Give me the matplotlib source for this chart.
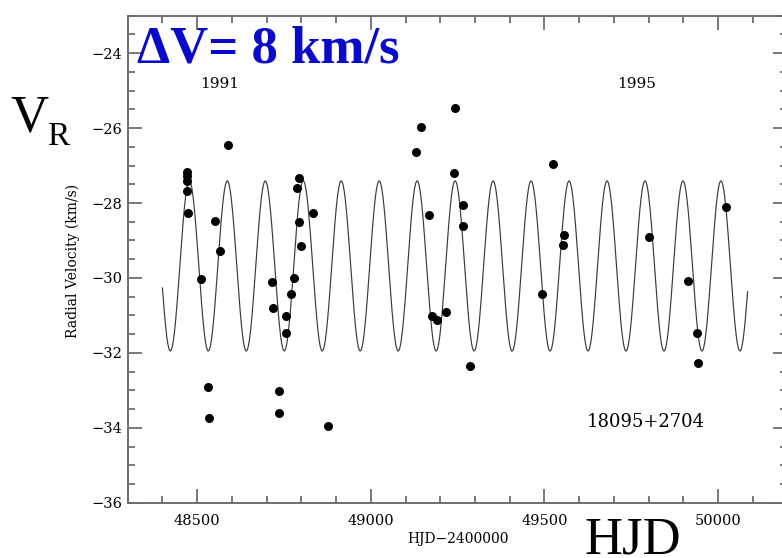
import numpy as np
import matplotlib
matplotlib.use("Agg")
import matplotlib.pyplot as plt

# ---- data (HJD-2400000, radial velocity km/s) ----
hjd = [48470.0, 48470.5, 48471.0, 48471.0, 48472.8, 48511.0, 48551.4, 48565.8,
       48532.0, 48534.0, 48589.7, 48714.6, 48719.3, 48734.8, 48736.5, 48755.8,
       48755.0, 48770.2, 48778.0, 48792.4, 48788.3, 48793.2, 48799.9, 48834.4,
       48875.9, 49243.3, 49145.4, 49131.0, 49239.6, 49168.4, 49264.6, 49264.6,
       49175.3, 49189.7, 49216.5, 49285.6, 49492.1, 49524.6, 49556.3, 49554.3,
       49800.1, 49913.3, 49940.0, 49941.3, 50022.7]
vr = [-27.17, -27.28, -27.42, -27.69, -28.28, -30.02, -28.47, -29.27,
      -32.92, -33.74, -26.44, -30.11, -30.79, -33.02, -33.61, -31.02,
      -31.48, -30.43, -30.01, -27.32, -27.61, -28.50, -29.15, -28.28,
      -33.95, -25.47, -25.97, -26.63, -27.19, -28.33, -28.04, -28.61,
      -31.01, -31.12, -30.90, -32.34, -30.43, -26.95, -28.86, -29.11,
      -28.91, -30.07, -31.47, -32.27, -28.11]

# orbit model parameters (fitted sinusoid)
period = 109.35
gamma = -29.68
amp = 2.27
t_peak = 48586.8
t_start, t_end = 48400.0, 50085.0

year_labels = ["1991", "1995"]
year_pos = [48565.8, 49765.6]
star_id = "18095+2704"

W, H = 782, 558
fig = plt.figure(figsize=(W / 100, H / 100), dpi=100)

def fx(x):
    return x / W

def fy(y):
    return 1 - y / H

ax_l, ax_r, ax_t, ax_b = 127.7, 787.5, 15.7, 502.7
ax = fig.add_axes([fx(ax_l), fy(ax_b), (ax_r - ax_l) / W, (ax_b - ax_t) / H])
ax.set_xlim(48300, 50200)
ax.set_ylim(-36, -23)

t = np.linspace(t_start, t_end, 3000)
model = gamma + amp * np.cos(2 * np.pi * (t - t_peak) / period)
ax.plot(t, model, color="#3a3a3a", lw=0.85)
ax.scatter(hjd, vr, s=42, color="black", zorder=3, linewidths=0)

spine_col = "#6e6e6e"
for s in ax.spines.values():
    s.set_color(spine_col)
    s.set_linewidth(1.4)

ax.set_xticks([48500, 49000, 49500, 50000])
ax.set_xticks(np.arange(48300, 50201, 100), minor=True)
ax.set_yticks(np.arange(-36, -23, 2))
ax.set_yticks(np.arange(-36, -22.9, 0.5), minor=True)
ax.set_yticklabels(["\u221236", "\u221234", "\u221232", "\u221230", "\u221228", "\u221226", "\u221224"])
ax.tick_params(which="both", direction="in", top=True, right=True, color=spine_col, width=1.3)
ax.tick_params(which="major", length=10)
ax.tick_params(which="minor", length=5)
ax.tick_params(axis="x", which="major", pad=8, labelsize=10.5)
ax.tick_params(axis="y", which="major", pad=4, labelsize=10.5)
for lab in ax.get_xticklabels() + ax.get_yticklabels():
    lab.set_family("DejaVu Serif")

for lbl, xp in zip(year_labels, year_pos):
    ax.text(xp, -24.83, lbl, ha="center", va="center", family="DejaVu Serif", fontsize=11)
ax.text(49791.5, -33.84, star_id, ha="center", va="center", family="DejaVu Serif", fontsize=13)

fig.text(fx(72.7), fy(261), "Radial Velocity (km/s)", rotation=90, ha="center", va="center",
         family="DejaVu Serif", fontsize=10)
fig.text(fx(457.7), fy(539), "HJD\u22122400000", ha="center", va="center",
         family="DejaVu Serif", fontsize=10)

fig.text(fx(137), fy(62.3), "\u0394V= 8 km/s", ha="left", va="baseline",
         family="Liberation Serif", fontweight="bold", fontsize=38, color="#0a0acc")
fig.text(fx(584), fy(553), "HJD", ha="left", va="baseline", family="Liberation Serif", fontsize=38)
fig.text(fx(10), fy(131.7), "V", ha="left", va="baseline", family="Liberation Serif", fontsize=38)
fig.text(fx(47), fy(145), "R", ha="left", va="baseline", family="Liberation Serif", fontsize=24)

fig.savefig("out.png", dpi=100)
